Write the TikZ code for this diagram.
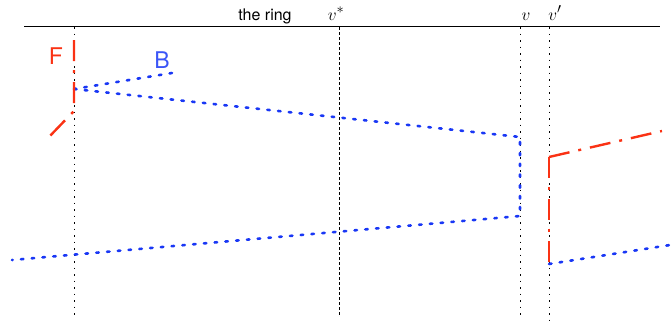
\documentclass[tikz,border=0pt]{standalone}
\usepackage{fontspec}
\setsansfont{TeX Gyre Heros}
\definecolor{mred}{RGB}{250,50,20}
\definecolor{mblue}{RGB}{25,55,245}
\begin{document}
\begin{tikzpicture}[x=1pt,y=-1pt,
  ringline/.style={line width=0.8pt,black},
  guide/.style={line width=0.6pt,black,dash pattern=on 1.5pt off 5pt},
  guidestar/.style={line width=0.6pt,black,dash pattern=on 3pt off 2pt},
  bpath/.style={mblue,line width=2.6pt,line cap=round,dash pattern=on 2.5pt off 8.3pt},
  fpath/.style={mred,line width=2.4pt,dash pattern=on 21pt off 9pt on 3pt off 9pt},
  lab/.style={inner sep=0pt,anchor=base,font=\sffamily\fontsize{16}{16}\selectfont},
  mlab/.style={inner sep=0pt,anchor=base,font=\fontsize{19}{19}\selectfont},
  biglab/.style={inner sep=0pt,font=\sffamily\fontsize{23}{23}\selectfont}]
\useasboundingbox (0,0) rectangle (671,322);
% top line
\coordinate (tl) at (24,26);
\coordinate (tr) at (660,26);
\draw[ringline] (tl) -- (tr);
% labels
\node[lab] (ring) at (265,20) {the ring};
\node[mlab] (vs) at (336,20) {$v^*$};
\node[mlab] (v) at (526,20) {$v$};
\node[mlab] (vp) at (555,20) {$v'$};
% guides
\coordinate (g1t) at (74,27);   \coordinate (g1b) at (74,316);
\coordinate (g2t) at (339,27);  \coordinate (g2b) at (339,315);
\coordinate (g3t) at (520,27);  \coordinate (g3b) at (520,315);
\coordinate (g4t) at (549,27);  \coordinate (g4b) at (549,320);
\draw[guide] (g1t) -- (g1b);
\draw[guidestar] (g2t) -- (g2b);
\draw[guide] (g3t) -- (g3b);
\draw[guide] (g4t) -- (g4b);
% F and B labels
\node[biglab,text=mred] (F) at (56,56) {F};
\node[biglab,text=mblue!85!white] (B) at (162,60) {B};
% blue path
\coordinate (b0) at (74,89);
\coordinate (bB) at (172,73);
\coordinate (b1) at (520,137);
\coordinate (b2) at (520,216);
\coordinate (b3) at (12,260);
\coordinate (c0) at (549,264);
\coordinate (c1) at (670,245);
\draw[bpath] (bB) -- (b0);
\draw[bpath] (b0) -- (b1) -- (b2) -- (b3);
\draw[bpath] (c0) -- (c1);
% red paths
\coordinate (f0) at (74,40);
\coordinate (f1) at (74,111);
\coordinate (f2) at (48,138);
\draw[fpath] (f0) -- (f1) -- (f2);
\coordinate (r0) at (662,131);
\coordinate (r1) at (549,157);
\coordinate (r2) at (549,264);
\draw[fpath] (r1) -- (r0);
\draw[fpath,dash phase=0pt] (r1) -- (r2);
\end{tikzpicture}
\end{document}
